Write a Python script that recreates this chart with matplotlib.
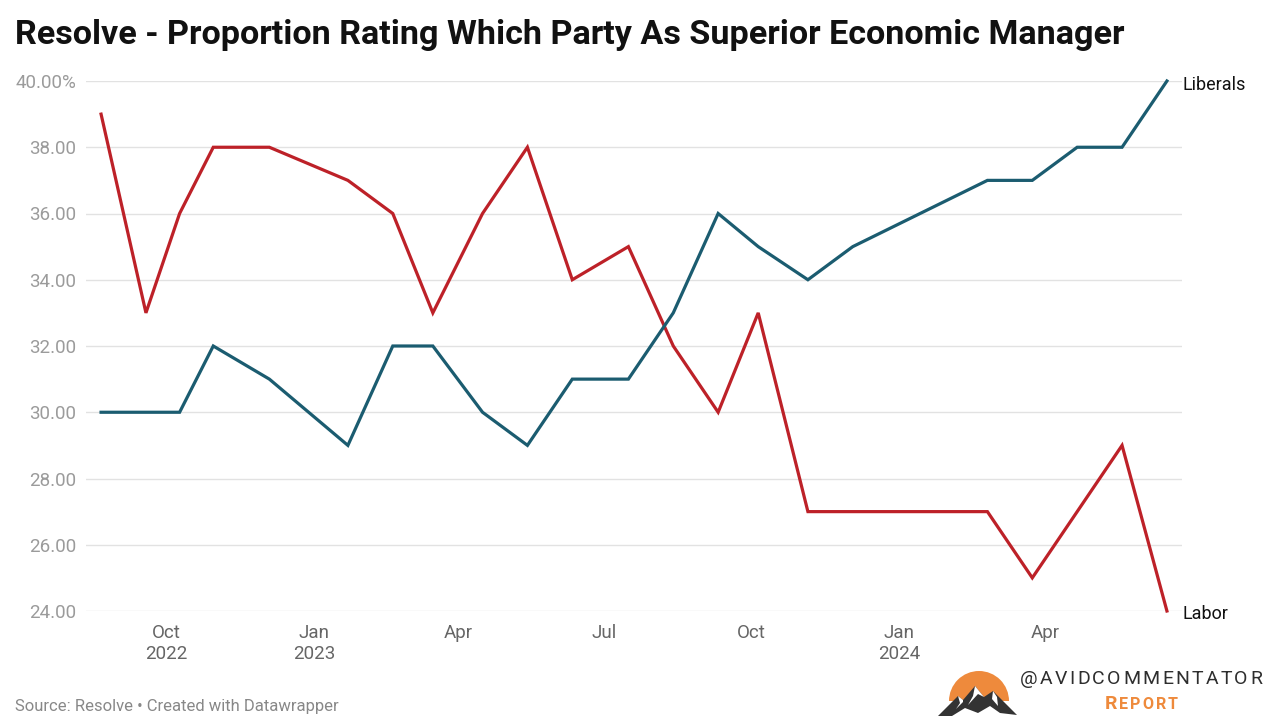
import pandas as pd
import matplotlib.pyplot as plt
import matplotlib.dates as mdates
from matplotlib.patches import Wedge, Polygon

# Данные
dates = ['2022-08-21', '2022-09-18', '2022-10-09', '2022-10-30', '2022-12-04',
         '2023-01-22', '2023-02-19', '2023-03-16', '2023-04-16', '2023-05-14',
         '2023-06-11', '2023-07-16', '2023-08-13', '2023-09-10', '2023-10-05',
         '2023-11-05', '2023-12-03', '2024-02-25', '2024-03-24', '2024-04-21',
         '2024-05-19', '2024-06-16']
liberals = [30, 30, 30, 32, 31, 29, 32, 32, 30, 29, 31, 31, 33, 36, 35, 34, 35,
            37, 37, 38, 38, 40]
labor = [39, 33, 36, 38, 38, 37, 36, 33, 36, 38, 34, 35, 32, 30, 33, 27, 27,
         27, 25, 27, 29, 24]
y_ticks = [24, 26, 28, 30, 32, 34, 36, 38, 40]
y_labels = ['24.00', '26.00', '28.00', '30.00', '32.00', '34.00', '36.00', '38.00', '40.00%']

title = 'Resolve - Proportion Rating Which Party As Superior Economic Manager'
source = 'Source: Resolve \u2022 Created with Datawrapper'

df = pd.DataFrame({'date': pd.to_datetime(dates), 'lib': liberals, 'lab': labor})

plt.rcParams['font.family'] = ['Roboto', 'DejaVu Sans']

RED = '#bd2128'
BLUE = '#1b5c70'
ORANGE = '#ee8a3c'
W, H = 1279, 720

fig = plt.figure(figsize=(12.79, 7.2), dpi=100)
ax = fig.add_axes([86 / W, 1 - 611 / H, (1182 - 86) / W, (611 - 81) / H])

ax.plot(df['date'], df['lab'], color=RED, lw=2.3, clip_on=False, solid_joinstyle='miter')
ax.plot(df['date'], df['lib'], color=BLUE, lw=2.3, clip_on=False, solid_joinstyle='miter')

# Подписи серий у последней точки
ax.annotate('Liberals', (df['date'].iloc[-1], df['lib'].iloc[-1]), xytext=(11.5, -3),
            textcoords='offset points', fontsize=13, color='#111111', va='center', ha='left',
            annotation_clip=False)
ax.annotate('Labor', (df['date'].iloc[-1], df['lab'].iloc[-1]), xytext=(11.5, -2),
            textcoords='offset points', fontsize=13, color='#111111', va='center', ha='left',
            annotation_clip=False)

pad = pd.Timedelta(days=9.4)
ax.set_xlim(df['date'].iloc[0] - pad, df['date'].iloc[-1] + pad)
ax.set_ylim(24, 40)

ax.set_yticks(y_ticks)
ax.set_yticklabels(y_labels)
ax.grid(axis='y', color='#e2e2e2', lw=1)
ax.set_axisbelow(True)

ax.xaxis.set_major_locator(mdates.MonthLocator(bymonth=[1, 4, 7, 10]))
def fmt(x, pos):
    d = mdates.num2date(x)
    if d.month == 1 or (d.month == 10 and d.year == 2022):
        return d.strftime('%b\n%Y')
    return d.strftime('%b')
ax.xaxis.set_major_formatter(plt.FuncFormatter(fmt))

ax.tick_params(axis='y', length=0, pad=7, labelsize=13.5, labelcolor='#9b9b9b')
ax.tick_params(axis='x', length=0, pad=9, labelsize=13.5, labelcolor='#666666')
for lbl in ax.get_xticklabels():
    lbl.set_linespacing(1.25)
for s in ax.spines.values():
    s.set_visible(False)

fig.text(15 / W, 1 - 35 / H, title, fontsize=24.6, fontweight='bold',
         color='#111111', va='center', ha='left')
fig.text(15 / W, 1 - 707 / H, source, fontsize=12, color='#888888',
         va='center', ha='left')

# Логотип (в пиксельных координатах)
lax = fig.add_axes([930 / W, 1 - 720 / H, 100 / W, 65 / H])
lax.set_xlim(930, 1030)
lax.set_ylim(720, 655)
lax.axis('off')
lax.add_patch(Wedge((979, 701), 30, 180, 360, color=ORANGE, lw=0))
mount = [(938, 716), (948, 706), (958, 696), (963, 700), (975, 686), (984, 697),
         (993, 691), (1004, 702), (1017, 715), (1000, 713), (990, 706), (978, 713),
         (965, 708), (952, 716)]
lax.add_patch(Polygon(mount, closed=True, color='#333333', lw=0))
snow = [[(958, 696), (960, 703), (956, 709), (963, 702), (963, 700)],
        [(975, 686), (973, 696), (968, 705), (978, 694), (984, 697)],
        [(993, 691), (992, 699), (998, 706), (997, 697)]]
for s in snow:
    lax.add_patch(Polygon(s, closed=True, color='white', lw=0))

renderer = fig.canvas.get_renderer()

def spaced_text(chars, x_left, x_right, y, sizes, **kw):
    # раскладка букв с равными промежутками между ними
    objs = []
    for ch, sz in zip(chars, sizes):
        objs.append(fig.text(0, 1 - y / H, ch, fontsize=sz, ha='left', va='baseline', **kw))
    widths = [o.get_window_extent(renderer).width for o in objs]
    gap = (x_right - x_left - sum(widths)) / (len(chars) - 1)
    x = x_left
    for o, w in zip(objs, widths):
        o.set_x(x / W)
        x += w + gap

handle = '@AVIDCOMMENTATOR'
spaced_text(handle, 1020, 1262, 684, [14] * len(handle), color='#2e2e2e')
spaced_text('REPORT', 1105, 1178, 709, [14, 11.5, 11.5, 11.5, 11.5, 11.5],
            color=ORANGE, fontweight='bold')

fig.savefig('out.png', dpi=100, facecolor='white')
